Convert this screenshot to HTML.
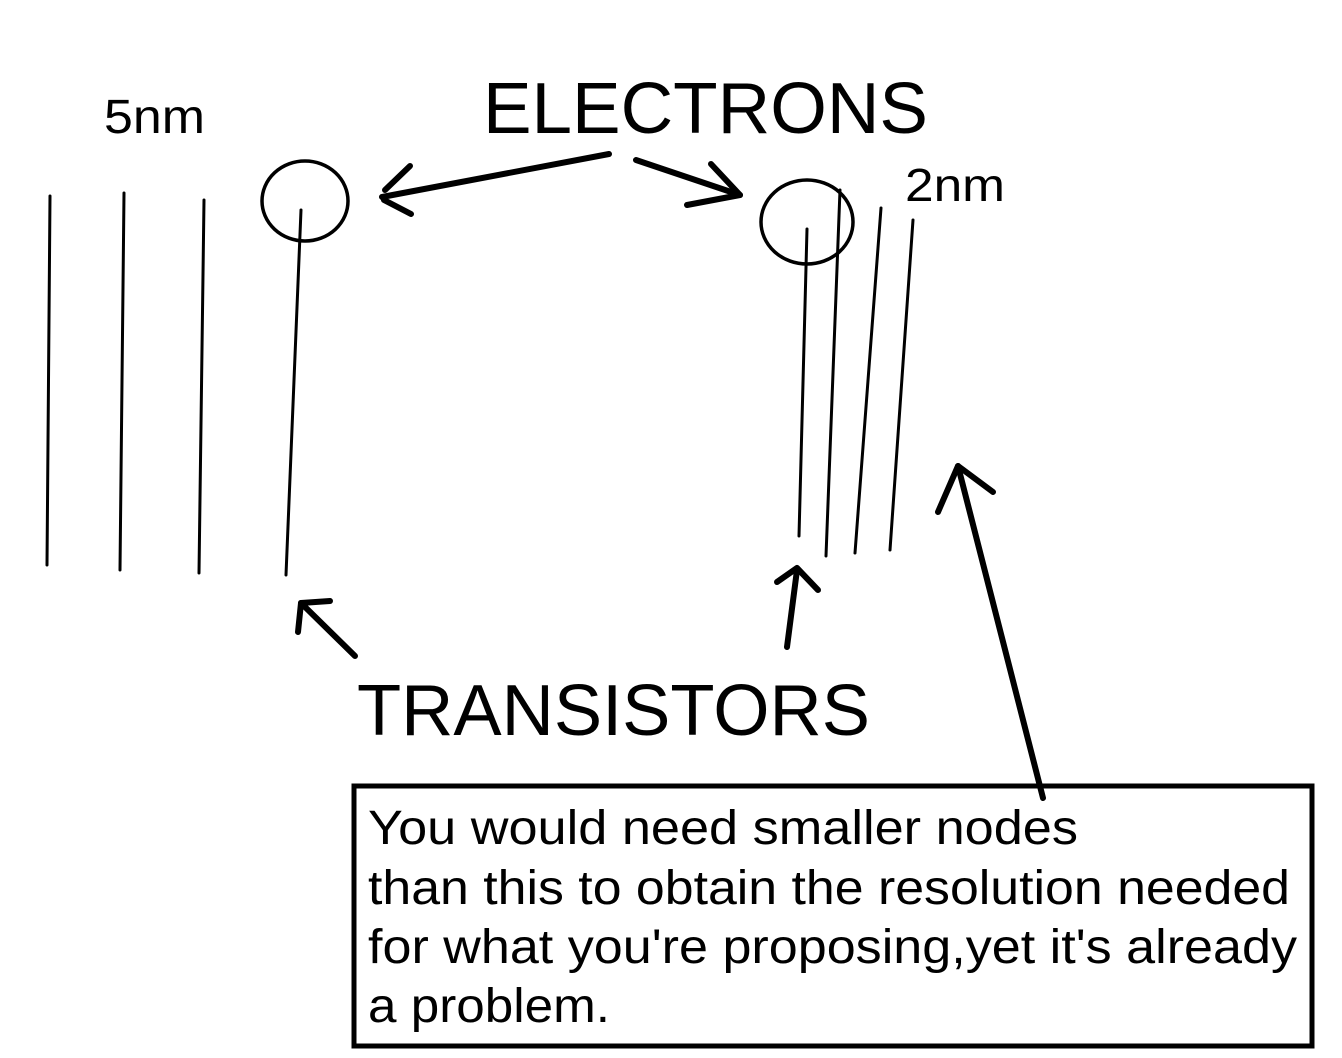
<!DOCTYPE html>
<html><head><meta charset="utf-8"><style>
html,body{margin:0;padding:0;background:#fff;}
svg{display:block}
text{font-family:"Liberation Sans",sans-serif;fill:#000}
</style></head><body>
<svg width="1342" height="1058" viewBox="0 0 1342 1058" xmlns="http://www.w3.org/2000/svg">
<rect width="1342" height="1058" fill="#fff"/>
<g stroke="#000" fill="none" stroke-linecap="round">
<g stroke-width="3">
<line x1="50" y1="196" x2="47" y2="565"/>
<line x1="124" y1="193" x2="120" y2="570"/>
<line x1="204" y1="200" x2="199" y2="573"/>
<line x1="301" y1="210" x2="286" y2="575"/>
<line x1="807" y1="229" x2="799" y2="536"/>
<line x1="840" y1="190" x2="826" y2="556"/>
<line x1="881" y1="208" x2="855" y2="553"/>
<line x1="913" y1="220" x2="890" y2="550"/>
</g>
<ellipse cx="305" cy="201" rx="43" ry="40" stroke-width="3.5"/>
<ellipse cx="807" cy="222" rx="46" ry="42" stroke-width="3.5"/>
<g stroke-width="6" stroke-linejoin="round">
<line x1="609" y1="154" x2="382" y2="197"/>
<line x1="410" y1="166" x2="385" y2="190"/>
<polyline points="384,200 411,214"/>
<line x1="636" y1="160" x2="740" y2="195"/>
<polyline points="711,164 740,195 687,205"/>
<line x1="355" y1="656" x2="301" y2="603"/>
<polyline points="298,632 301,603 330,601"/>
<line x1="787" y1="647" x2="797" y2="570"/>
<polyline points="777,582 797,568 818,590"/>
<line x1="1043" y1="798" x2="958" y2="466"/>
<polyline points="938,512 958,466 993,492"/>
</g>
<rect x="354" y="786" width="958" height="260" stroke-width="5"/>
</g>
<text x="104" y="133" font-size="48" textLength="101" lengthAdjust="spacingAndGlyphs">5nm</text>
<text x="483" y="133" font-size="72" textLength="445" lengthAdjust="spacingAndGlyphs">ELECTRONS</text>
<text x="905" y="201" font-size="46" textLength="100" lengthAdjust="spacingAndGlyphs">2nm</text>
<text x="357" y="735" font-size="72" textLength="513" lengthAdjust="spacingAndGlyphs">TRANSISTORS</text>
<g font-size="48">
<text x="368" y="844" textLength="710" lengthAdjust="spacingAndGlyphs">You would need smaller nodes</text>
<text x="368" y="904" textLength="922" lengthAdjust="spacingAndGlyphs">than this to obtain the resolution needed</text>
<text x="368" y="963" textLength="929" lengthAdjust="spacingAndGlyphs">for what you're proposing,yet it's already</text>
<text x="368" y="1022" textLength="242" lengthAdjust="spacingAndGlyphs">a problem.</text>
</g>
</svg>
</body></html>
